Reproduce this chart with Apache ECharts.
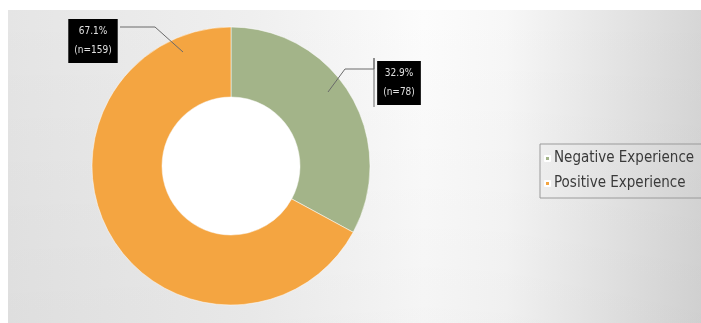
<!DOCTYPE html>
<html>
<head>
<meta charset="utf-8">
<script src="https://cdn.jsdelivr.net/npm/echarts@6/dist/echarts.min.js"></script>
<style>
  html, body { margin: 0; padding: 0; background: #fff; }
  #chart { width: 701px; height: 323px; }
</style>
</head>
<body>
<div id="chart"></div>
<script>
// 数据
let categories = ['Negative Experience', 'Positive Experience']
let counts = [78, 159]
let percents = [32.9, 67.1]
let colors = ['#a3b489', '#f4a541']

// 饼图位置
let cx = 231
let cy = 166
let outerR = 139
let innerR = 69

// 标签位置（盒子中心x、顶部y）与引导线折点
let labelPos = [
  {x: 399, y: 61, line: [[328, 92], [345, 69], [374, 69], [374, 58], [374, 107]]},
  {x: 93, y: 19, line: [[183, 52], [155, 27], [120, 27]]}
]

let el = document.querySelector('#chart')
let chartInstance = echarts.init(el)

let pieData = categories.map((name, i) => ({
  name: name,
  value: counts[i],
  itemStyle: {color: colors[i]}
}))

let chartOption = {
  backgroundColor: '#fff',
  animation: false,
  graphic: [
    {
      type: 'rect',
      z: -10,
      shape: {x: 8, y: 10, width: 693, height: 313},
      style: {
        fill: new echarts.graphic.LinearGradient(0, 0, 1, 0, [
          {offset: 0, color: '#e5e5e5'},
          {offset: 0.35, color: '#efefef'},
          {offset: 0.6, color: '#fcfcfc'},
          {offset: 0.72, color: '#f7f7f7'},
          {offset: 1, color: '#d6d6d6'}
        ])
      }
    },
    {
      type: 'rect',
      z: -9,
      shape: {x: 8, y: 10, width: 693, height: 313},
      style: {
        fill: new echarts.graphic.LinearGradient(0, 0, 0, 1, [
          {offset: 0, color: 'rgba(0,0,0,0)'},
          {offset: 1, color: 'rgba(0,0,0,0.03)'}
        ])
      }
    },
    {
      type: 'circle',
      z: -5,
      shape: {cx: cx, cy: cy, r: innerR},
      style: {fill: '#ffffff'}
    }
  ],
  legend: {
    orient: 'vertical',
    left: 540,
    top: 144,
    data: categories,
    itemWidth: 5,
    itemHeight: 5,
    itemGap: 10,
    padding: [7, 10, 7, 4],
    borderColor: '#9a9a9a',
    borderWidth: 1,
    icon: 'rect',
    textStyle: {
      color: '#3a3a3a',
      fontSize: 15,
      fontFamily: 'DejaVu Sans Condensed, sans-serif',
      padding: [0, 0, 0, -1]
    }
  },
  series: [
    {
      type: 'pie',
      z: 2,
      center: [cx, cy],
      radius: [innerR, outerR],
      startAngle: 90,
      clockwise: true,
      silent: true,
      itemStyle: {borderColor: '#ffffff', borderWidth: 0.5},
      label: {show: false},
      labelLine: {show: false},
      data: pieData
    },
    {
      // 透明的一层，只用来画标签和引导线，让线压在扇区上面
      type: 'pie',
      z: 3,
      center: [cx, cy],
      radius: [innerR, outerR],
      startAngle: 90,
      clockwise: true,
      silent: true,
      itemStyle: {color: 'rgba(0,0,0,0)', borderWidth: 0},
      label: {
        show: true,
        position: 'outside',
        formatter: function (p) {
          return percents[p.dataIndex].toFixed(1) + '%\n(n=' + counts[p.dataIndex] + ')'
        },
        color: '#e0e0e0',
        backgroundColor: '#000000',
        fontSize: 10,
        lineHeight: 19,
        fontFamily: 'DejaVu Sans Condensed, sans-serif',
        padding: [3, 6, 3, 6],
        align: 'center'
      },
      labelLine: {
        show: true,
        lineStyle: {color: '#6a6a6a', width: 1}
      },
      labelLayout: function (params) {
        let pos = labelPos[params.dataIndex]
        return {
          x: pos.x,
          y: pos.y,
          align: 'center',
          verticalAlign: 'top',
          labelLinePoints: pos.line
        }
      },
      data: categories.map((name, i) => ({name: name, value: counts[i]}))
    }
  ]
}

chartInstance.setOption(chartOption)
</script>
</body>
</html>
